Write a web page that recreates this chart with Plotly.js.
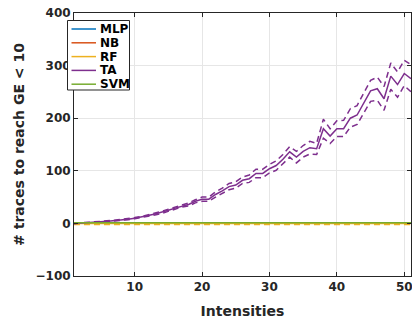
<!DOCTYPE html>
<html>
<head>
<meta charset="utf-8">
<script src="https://cdn.plot.ly/plotly-3.0.1.min.js"></script>
<style>html,body{margin:0;padding:0;background:#fff;}#chart{width:412px;height:321px;}</style>
</head>
<body>
<div id="chart"></div>
<script>
const intensities = [1,2,3,4,5,6,7,8,9,10,11,12,13,14,15,16,17,18,19,20,21,22,23,24,25,26,27,28,29,30,31,32,33,34,35,36,37,38,39,40,41,42,43,44,45,46,47,48,49,50,51];
const seriesNames = ["MLP","NB","RF","TA","SVM"];
const mlp = [1,1,1,1,1,1,1,1,1,1,1,1,1,1,1,1,1,1,1,1,1,1,1,1,1,1,1,1,1,1,1,1,1,1,1,1,1,1,1,1,1,1,1,1,1,1,1,1,1,1,1];
const nb  = [1,1,1,1,1,1,1,1,1,1,1,1,1,1,1,1,1,1,1,1,1,1,1,1,1,1,1,1,1,1,1,1,1,1,1,1,1,1,1,1,1,1,1,1,1,1,1,2,1,1,1];
const rf  = [0,0,0,0,0,0,0,0,0,0,0,0,0,0,0,0,0,0,0,0,0,0,0,0,0,0,0,0,0,0,0,0,0,0,0,0,0,0,0,0,0,0,0,0,0,0,0,0,0,0,0];
const rfLow = [-2,-2,-2,-2,-2,-2,-2,-2,-2,-2,-2,-2,-2,-2,-2,-2,-2,-2,-2,-2,-2,-2,-2,-2,-2,-2,-2,-2,-2,-2,-2,-2,-2,-2,-2,-2,-2,-2,-2,-2,-2,-2,-2,-2,-2,-2,-2,-2,-2,-2,-2];
const svm = [1,1,1,1,1,1,1,1,1,1,1,1,1,1,1,1,1,1,1,1,1,1,1,1,1,1,1,1,1,1,1,1,1,1,1,1,1,1,1,1,1,1,1,1,1,1,1,1,1,2,1];
const ta = [0,0.5,1,2,3,4,5,7,8,10,12,15,18,21,25,29,33,36,42,46,46,55,62,70,73,82,85,95,95,104,110,122,136,126,137,144,142,180,166,180,180,200,206,230,252,256,237,280,264,285,275];
const taUpper = [0,1,1.5,2.5,3.5,5,6,8,9,11,13,16,20,23,27,31,35,39,45,50,50,60,67,76,79,88,92,103,103,112,119,131,146,137,148,156,152,198,180,195,196,218,224,248,272,278,260,305,288,310,302];
const taLower = [0,0,0.5,1.5,2.5,3.5,4.5,6,7,9,11,13.5,16,19,23,27,31,33,39,42,42,50,57,64,67,76,78,87,87,96,101,113,126,115,126,132,131,162,152,165,165,183,188,210,232,234,215,255,240,262,250];
const colors = {MLP:"#0072BD", NB:"#D95319", RF:"#EDB120", TA:"#7E2F8E", SVM:"#77AC30"};

const dashStyle = "6px,4px";
const traces = [];
function main(name, y){
  traces.push({x:intensities, y:y, type:"scatter", mode:"lines", name:name, showlegend:false,
    line:{color:colors[name], width:1.5}});
}
function bound(name, y){
  traces.push({x:intensities, y:y, type:"scatter", mode:"lines", showlegend:false, hoverinfo:"skip",
    line:{color:colors[name], width:1.5, dash:dashStyle}});
}
bound("RF", rfLow);
bound("TA", taUpper);
bound("TA", taLower);
main("MLP", mlp);
main("NB", nb);
main("RF", rf);
main("TA", ta);
main("SVM", svm);

// Custom compact legend (pixel layout converted to paper coords)
const W = 412, H = 321, mL = 74, mR = 1, mT = 13, mB = 45;
const pw = W - mL - mR, ph = H - mT - mB;
const px = v => (v - mL) / pw;
const py = v => (H - mB - v) / ph;
const shapes = [{type:"rect", xref:"paper", yref:"paper",
  x0:px(67.5), x1:px(129.5), y0:py(90), y1:py(20.5),
  fillcolor:"#ffffff", line:{color:"#262626", width:1}, layer:"above"}];
const annotations = [];
seriesNames.forEach((n, i) => {
  const yc = 29 + i * 13.8;
  shapes.push({type:"line", xref:"paper", yref:"paper", x0:px(71.5), x1:px(96), y0:py(yc), y1:py(yc),
    line:{color:colors[n], width:1.5}, layer:"above"});
  annotations.push({xref:"paper", yref:"paper", x:px(97.5), y:py(yc), xanchor:"left", yanchor:"middle",
    text:"<b>" + n + "</b>", showarrow:false,
    font:{family:"DejaVu Sans", size:12, color:"#000000"}});
});

const axisCommon = {
  showline:true, linecolor:"#262626", linewidth:1, mirror:"ticks",
  ticks:"inside", ticklen:4, tickcolor:"#262626",
  showgrid:true, gridcolor:"#e6e6e6", gridwidth:1, zeroline:false,
  ticklabeloverflow:"allow",
  tickfont:{family:"DejaVu Sans", size:12, color:"#262626", weight:"bold"}
};
const layout = {
  width:W, height:H,
  margin:{l:mL, r:mR, t:mT, b:mB},
  paper_bgcolor:"#ffffff", plot_bgcolor:"#ffffff",
  font:{family:"DejaVu Sans", color:"#262626"},
  xaxis:Object.assign({}, axisCommon, {
    range:[1,51], tick0:10, dtick:10,
    title:{text:"<b>Intensities</b>", font:{family:"DejaVu Sans", size:14, color:"#262626"}, standoff:12}
  }),
  yaxis:Object.assign({}, axisCommon, {
    range:[-100,400], dtick:100,
    title:{text:"<b># traces to reach GE < 10</b>", font:{family:"DejaVu Sans", size:14, color:"#262626"}, standoff:7}
  }),
  shapes:shapes,
  annotations:annotations,
  showlegend:false
};
Plotly.newPlot("chart", traces, layout, {displayModeBar:false, staticPlot:true});
</script>
</body>
</html>
